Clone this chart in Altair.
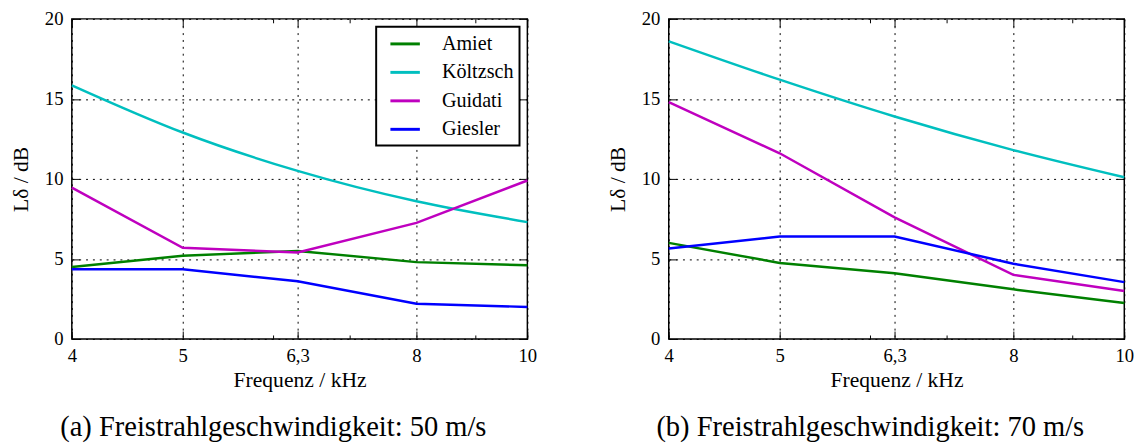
import altair as alt
import pandas as pd

# ---- data ----
freqs = [4, 5, 6.3, 8, 10]
models = ["Amiet", "Költzsch", "Guidati", "Giesler"]
colors = ["#008000", "#00BFBF", "#BF00BF", "#0000FF"]

# (a) 50 m/s
a_amiet = [4.5, 5.2, 5.5, 4.8, 4.6]
a_koeltzsch = [15.85, 12.9, 10.5, 8.6, 7.3]
a_guidati = [9.45, 5.7, 5.4, 7.25, 9.9]
a_giesler = [4.35, 4.35, 3.6, 2.2, 2.0]

# (b) 70 m/s
b_amiet = [6.0, 4.75, 4.1, 3.1, 2.25]
b_koeltzsch = [18.6, 16.2, 13.9, 11.8, 10.1]
b_guidati = [14.8, 11.6, 7.6, 4.0, 3.0]
b_giesler = [5.65, 6.4, 6.4, 4.7, 3.55]

major_x = [4, 5, 6.3, 8, 10]
minor_x = [6, 7, 9]
y_ticks = [0, 5, 10, 15, 20]

caption_a = "(a) Freistrahlgeschwindigkeit: 50 m/s"
caption_b = "(b) Freistrahlgeschwindigkeit: 70 m/s"
x_title = "Frequenz / kHz"
y_title = "Lδ / dB"

FONT = "Liberation Serif"


def make_df(series):
    rows = []
    for m, vals in zip(models, series):
        for f, v in zip(freqs, vals):
            rows.append({"f": f, "L": v, "Modell": m})
    return pd.DataFrame(rows)


xscale = alt.Scale(type="log", domain=[4, 10], nice=False)
yscale = alt.Scale(domain=[0, 20], nice=False)
cscale = alt.Scale(domain=models, range=colors)

tick_common = dict(labels=False, domain=False, grid=False, title=None,
                   tickColor="black", tickWidth=1)


def panel(df, caption, show_legend):
    base = alt.Chart(df)
    if show_legend:
        legend = alt.Legend(
            title=None, orient="top-right", offset=8,
            strokeColor="black", fillColor="white", padding=6,
            symbolType="M-1.5,0H1.5", symbolSize=400, symbolStrokeWidth=3,
            symbolOffset=12, labelOffset=26, rowPadding=7,
            labelFont=FONT, labelFontSize=20.5, labelColor="black",
        )
    else:
        legend = None

    layers = []
    for i, m in enumerate(models):
        if i == 0:
            xax = alt.Axis(values=major_x, orient="bottom", ticks=False, domain=False,
                           grid=True, gridColor="black", gridDash=[2, 5], gridWidth=1,
                           labelExpr="replace(toString(datum.value), '.', ',')",
                           labelFlush=False, labelPadding=8, labelOverlap=False,
                           title=x_title, titlePadding=4)
            yax = alt.Axis(values=y_ticks, orient="left", ticks=False, domain=False,
                           grid=True, gridColor="black", gridDash=[2, 5], gridWidth=1,
                           labelFlush=False, labelPadding=9, labelOverlap=False,
                           title=y_title, titlePadding=12)
        else:
            xax = None
            yax = None
        interp = "monotone" if m == "Költzsch" else "linear"
        layers.append(
            base.mark_line(strokeWidth=2.5, interpolate=interp)
            .encode(
                x=alt.X("f:Q", scale=xscale, axis=xax),
                y=alt.Y("L:Q", scale=yscale, axis=yax),
                color=alt.Color("Modell:N", scale=cscale, legend=legend),
            )
            .transform_filter(alt.datum.Modell == m)
        )

    def tick_layer(x_axis, y_axis):
        return base.mark_point(opacity=0).encode(
            x=alt.X("f:Q", scale=xscale, axis=x_axis),
            y=alt.Y("L:Q", scale=yscale, axis=y_axis),
        )

    layers.append(tick_layer(
        alt.Axis(orient="bottom", values=major_x, offset=-8, tickSize=8, **tick_common),
        alt.Axis(orient="left", values=y_ticks, offset=-8, tickSize=8, **tick_common)))
    layers.append(tick_layer(
        alt.Axis(orient="top", values=major_x, offset=-8, tickSize=8, **tick_common),
        alt.Axis(orient="right", values=y_ticks, offset=-8, tickSize=8, **tick_common)))
    layers.append(tick_layer(
        alt.Axis(orient="bottom", values=minor_x, offset=-4, tickSize=4, **tick_common),
        None))
    layers.append(tick_layer(
        alt.Axis(orient="top", values=minor_x, offset=-4, tickSize=4, **tick_common),
        None))

    return (
        alt.layer(*layers)
        .resolve_axis(x="independent", y="independent")
        .properties(
            width=464, height=326,
            title=alt.TitleParams(caption, orient="bottom", anchor="middle",
                                  frame="bounds", offset=24, fontSize=29,
                                  font=FONT, fontWeight="normal", color="black"),
        )
    )


pa = panel(make_df([a_amiet, a_koeltzsch, a_guidati, a_giesler]), caption_a, True)
pb = panel(make_df([b_amiet, b_koeltzsch, b_guidati, b_giesler]), caption_b, False)

chart = (
    alt.hconcat(pa, pb, spacing=69)
    .resolve_scale(color="independent")
    .properties(padding={"left": 1, "top": -3, "right": 5, "bottom": 0},
                background="white")
    .configure_view(stroke="black", strokeWidth=1.5)
    .configure_axis(labelFont=FONT, titleFont=FONT, labelFontSize=19,
                    titleFontSize=22, labelColor="black", titleColor="black",
                    titleFontWeight="normal")
    .configure_legend(strokeWidth=2)
)

chart.save("out.html", embed_options={"renderer": "svg", "actions": False})
